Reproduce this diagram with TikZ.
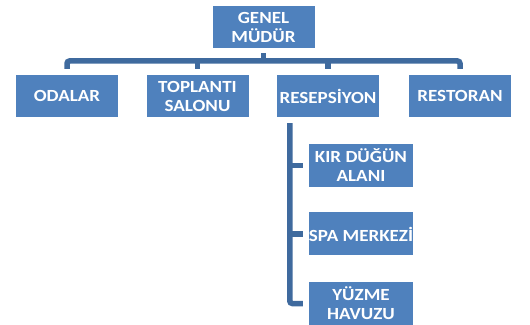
\documentclass[tikz,border=0pt]{standalone}
\usepackage{fontspec}
\newfontfamily\boxfont[FakeStretch=1.12]{Carlito}
\definecolor{boxblue}{HTML}{4F81BD}
\definecolor{linkblue}{HTML}{3F6A9E}
\begin{document}
\begin{tikzpicture}[x=1pt,y=1pt,
  orgbox/.style={fill=boxblue, draw=none, text=white, minimum width=102pt, minimum height=42pt,
    inner sep=0pt, align=center, font=\boxfont\bfseries\fontsize{17}{19}\selectfont},
  childbox/.style={orgbox, minimum width=104pt, minimum height=43pt},
  link/.style={draw=linkblue, line width=5.5pt, rounded corners=2.5pt}]
\useasboundingbox (0,0) rectangle (530,324);
\node[orgbox] (gm) at (263.5,297) {GENEL\\MÜDÜR};
\node[orgbox] (odalar) at (67,228) {ODALAR};
\node[orgbox] (toplanti) at (197.5,228) {TOPLANTI\\SALONU};
\node[orgbox] (resepsiyon) at (328,228) {RESEPSİYON};
\node[orgbox] (restoran) at (460,228) {RESTORAN};
\node[childbox] (kir) at (361,158.5) {KIR DÜĞÜN\\ALANI};
\node[childbox] (spa) at (361,90) {\makebox[96pt][c]{SPA MERKEZİ}};
\node[childbox] (yuzme) at (361,20.5) {YÜZME\\HAVUZU};
% top level connectors
\coordinate (bar) at (263.5,263);
\draw[link] ([yshift=-5pt]gm.south) -- (bar);
\draw[link] ([yshift=6pt]odalar.north) -- (odalar.north |- bar) -- (restoran.north |- bar) -- ([yshift=6pt]restoran.north);
\draw[link] ([yshift=6pt]toplanti.north) -- (toplanti.north |- bar);
\draw[link] ([yshift=6pt]resepsiyon.north) -- (resepsiyon.north |- bar);
% child connectors
\coordinate (trunk) at ([xshift=13pt,yshift=-6pt]resepsiyon.south west);
\draw[link] (trunk) |- ([xshift=-6pt]yuzme.west);
\draw[link] ([xshift=-6pt]kir.west) -- (trunk |- kir.west);
\draw[link] ([xshift=-6pt]spa.west) -- (trunk |- spa.west);
\end{tikzpicture}
\end{document}
